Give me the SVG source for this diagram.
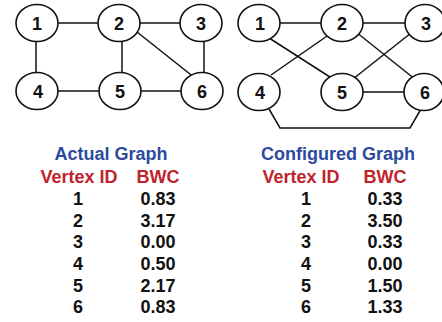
<svg xmlns="http://www.w3.org/2000/svg" width="442" height="322" viewBox="0 0 442 322">
  <style>
    .node ellipse { fill: #ffffff; stroke: #111111; stroke-width: 1.6; }
    .node text { font-family: "Liberation Sans", Arial, sans-serif; font-weight: bold; font-size: 18px; fill: #111111; text-anchor: middle; }
    .edges line, .edges polyline { stroke: #111111; stroke-width: 1.5; fill: none; }
    .title { font-family: "Liberation Sans", Arial, sans-serif; font-weight: bold; font-size: 18px; fill: #2c4a9e; text-anchor: middle; }
    .head { font-family: "Liberation Sans", Arial, sans-serif; font-weight: bold; font-size: 18px; fill: #c0232b; text-anchor: middle; }
    .cell { font-family: "Liberation Sans", Arial, sans-serif; font-weight: bold; font-size: 18px; fill: #111111; text-anchor: middle; }
  </style>

  <!-- Left graph: connectors -->
  <g id="edges-actual" class="edges">
    <line x1="37" y1="23" x2="119" y2="23"/>
    <line x1="119" y1="23" x2="201" y2="23"/>
    <line x1="36" y1="23" x2="36" y2="91"/>
    <line x1="122" y1="23" x2="122" y2="91"/>
    <line x1="204" y1="23" x2="204" y2="91"/>
    <line x1="37" y1="91" x2="201" y2="91"/>
    <line x1="132" y1="28" x2="200" y2="82"/>
  </g>

  <!-- Left graph: vertices -->
  <g id="a1" class="node"><ellipse cx="37" cy="23" rx="21" ry="18.5"/><text x="37" y="30">1</text></g>
  <g id="a2" class="node"><ellipse cx="119" cy="23" rx="21" ry="18.5"/><text x="119" y="30">2</text></g>
  <g id="a3" class="node"><ellipse cx="201" cy="23" rx="21" ry="18.5"/><text x="201" y="30">3</text></g>
  <g id="a4" class="node"><ellipse cx="37" cy="91" rx="21" ry="18.5"/><text x="38" y="98">4</text></g>
  <g id="a5" class="node"><ellipse cx="120" cy="91" rx="21" ry="18.5"/><text x="120" y="98">5</text></g>
  <g id="a6" class="node"><ellipse cx="202" cy="91" rx="21" ry="18.5"/><text x="202" y="98">6</text></g>

  <!-- Right graph: connectors -->
  <g id="edges-configured" class="edges">
    <line x1="259" y1="23" x2="425" y2="23"/>
    <line x1="266" y1="36" x2="333" y2="79"/>
    <line x1="330" y1="34" x2="271" y2="75"/>
    <line x1="356" y1="32" x2="416" y2="80"/>
    <line x1="411" y1="33" x2="353" y2="79"/>
    <line x1="342" y1="92" x2="424" y2="92"/>
    <polyline points="269,109 280,128 410,128 421,109"/>
  </g>

  <!-- Right graph: vertices -->
  <g id="c1" class="node"><ellipse cx="259" cy="23" rx="21" ry="18.5"/><text x="260" y="30">1</text></g>
  <g id="c2" class="node"><ellipse cx="342" cy="23" rx="21" ry="18.5"/><text x="342" y="30">2</text></g>
  <g id="c3" class="node"><ellipse cx="425" cy="23" rx="20" ry="18.5"/><text x="426" y="30">3</text></g>
  <g id="c4" class="node"><ellipse cx="259" cy="92" rx="21" ry="18.5"/><text x="260" y="99">4</text></g>
  <g id="c5" class="node"><ellipse cx="342" cy="92" rx="21" ry="18.5"/><text x="342" y="99">5</text></g>
  <g id="c6" class="node"><ellipse cx="424" cy="92" rx="20" ry="18.5"/><text x="425" y="99">6</text></g>

  <!-- Left table -->
  <g id="table-actual">
    <text class="title" x="111" y="160">Actual Graph</text>
    <text class="head" x="79" y="183">Vertex ID</text>
    <text class="head" x="158" y="183">BWC</text>
    <text class="cell" x="78" y="205">1</text><text class="cell" x="158" y="205">0.83</text>
    <text class="cell" x="78" y="227">2</text><text class="cell" x="158" y="227">3.17</text>
    <text class="cell" x="78" y="248">3</text><text class="cell" x="158" y="248">0.00</text>
    <text class="cell" x="78" y="270">4</text><text class="cell" x="158" y="270">0.50</text>
    <text class="cell" x="78" y="292">5</text><text class="cell" x="158" y="292">2.17</text>
    <text class="cell" x="78" y="313">6</text><text class="cell" x="158" y="313">0.83</text>
  </g>

  <!-- Right table -->
  <g id="table-configured">
    <text class="title" x="338" y="160">Configured Graph</text>
    <text class="head" x="301" y="183">Vertex ID</text>
    <text class="head" x="385" y="183">BWC</text>
    <text class="cell" x="306" y="205">1</text><text class="cell" x="385" y="205">0.33</text>
    <text class="cell" x="306" y="227">2</text><text class="cell" x="385" y="227">3.50</text>
    <text class="cell" x="306" y="248">3</text><text class="cell" x="385" y="248">0.33</text>
    <text class="cell" x="306" y="270">4</text><text class="cell" x="385" y="270">0.00</text>
    <text class="cell" x="306" y="292">5</text><text class="cell" x="385" y="292">1.50</text>
    <text class="cell" x="306" y="313">6</text><text class="cell" x="385" y="313">1.33</text>
  </g>
</svg>
